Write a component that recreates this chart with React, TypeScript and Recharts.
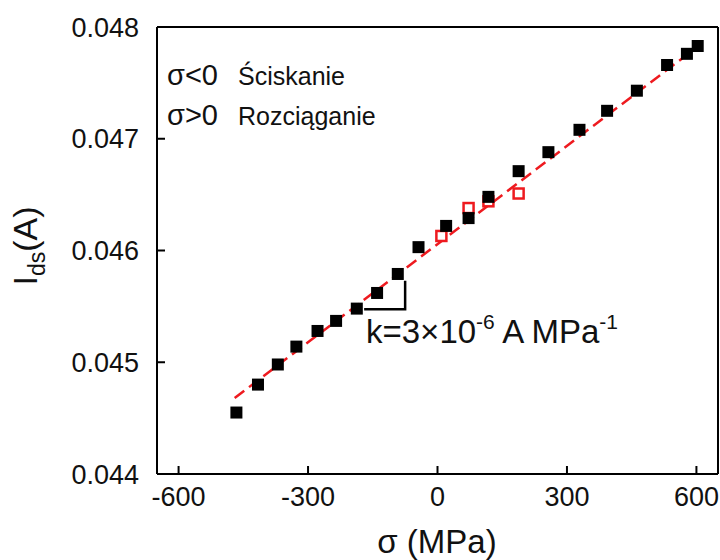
import React from 'react'
import { ComposedChart, Scatter, XAxis, YAxis } from 'recharts'

// measured points (stress in MPa, drain current in A)
const blackX = [-466, -416, -370, -327, -278, -235, -187, -140, -92, -44, 20, 72, 118, 188, 257, 329, 393, 462, 532, 578, 603]
const blackY = [
  0.04455, 0.0448, 0.04498, 0.04514, 0.04528, 0.04537, 0.04548, 0.04562, 0.04579, 0.04603, 0.04622,
  0.04629, 0.04648, 0.04671, 0.04688, 0.04708, 0.04725, 0.04743, 0.04766, 0.04776, 0.04783,
]
const redX = [9, 72, 118, 188]
const redY = [0.04613, 0.04638, 0.04644, 0.04651]

// dashed linear fit
const fitX = [-470, 605]
const fitY = [0.04468, 0.04783]

// slope marker
const slopeX = [-170, -75, -75]
const slopeY = [0.045475, 0.045475, 0.04573]

const xTicks = [-600, -300, 0, 300, 600]
const xMinor = [-450, -150, 150, 450]
const yTicks = [0.044, 0.045, 0.046, 0.047, 0.048]
const yMinor = [0.0445, 0.0455, 0.0465, 0.0475]

const zip = (xs: number[], ys: number[]) => xs.map((x, i) => ({ x, y: ys[i] }))
const black = zip(blackX, blackY)
const red = zip(redX, redY)
const fit = zip(fitX, fitY)
const slope = zip(slopeX, slopeY)

const RED = '#ee1a1f'
const FONT = '"Liberation Sans", Arial, sans-serif'
const THIN = 0.001 // axes need a non-zero size to be drawn

const BlackSquare = (p: any) => <rect x={p.cx - 6} y={p.cy - 6} width={12} height={12} fill="#000" />
const RedSquare = (p: any) => (
  <rect x={p.cx - 5} y={p.cy - 5} width={10} height={10} fill="#fff" stroke={RED} strokeWidth={2.5} />
)
const NoDot = () => <g />

const axisLine = { stroke: '#000', strokeWidth: 2 }
const tickLine = { stroke: '#000', strokeWidth: 2 }
const tickFont = { fontSize: 27, fill: '#111', fontFamily: FONT }

export default function App() {
  return (
    <div style={{ position: 'relative', width: 720, height: 560, background: '#fff' }}>
      <style>{'body{margin:0}'}</style>
      <ComposedChart width={720} height={560} margin={{ top: 27, right: 2, bottom: 86, left: 157 }}>
        <XAxis
          type="number"
          dataKey="x"
          domain={[-650, 650]}
          ticks={xTicks}
          allowDataOverflow
          height={THIN}
          tickSize={-8}
          tickMargin={21}
          axisLine={axisLine}
          tickLine={tickLine}
          tick={tickFont}
        />
        <XAxis xAxisId="xm" type="number" domain={[-650, 650]} ticks={xMinor} allowDataOverflow height={THIN}
          tickSize={-5} axisLine={false} tickLine={tickLine} tick={false} />
        <XAxis xAxisId="top" orientation="top" type="number" domain={[-650, 650]} ticks={xTicks} allowDataOverflow
          height={THIN} tickSize={-8} axisLine={axisLine} tickLine={tickLine} tick={false} />
        <XAxis xAxisId="topm" orientation="top" type="number" domain={[-650, 650]} ticks={xMinor} allowDataOverflow
          height={THIN} tickSize={-5} axisLine={false} tickLine={tickLine} tick={false} />
        <YAxis
          type="number"
          dataKey="y"
          domain={[0.044, 0.048]}
          ticks={yTicks}
          allowDataOverflow
          width={THIN}
          tickSize={-8}
          tickMargin={26}
          axisLine={axisLine}
          tickLine={tickLine}
          tick={tickFont}
          tickFormatter={(v: number) => v.toFixed(3)}
        />
        <YAxis yAxisId="ym" type="number" domain={[0.044, 0.048]} ticks={yMinor} allowDataOverflow width={THIN}
          tickSize={-5} axisLine={false} tickLine={tickLine} tick={false} />
        <YAxis yAxisId="right" orientation="right" type="number" domain={[0.044, 0.048]} ticks={yTicks}
          allowDataOverflow width={THIN} tickSize={-8} axisLine={axisLine} tickLine={tickLine} tick={false} />
        <YAxis yAxisId="rightm" orientation="right" type="number" domain={[0.044, 0.048]} ticks={yMinor}
          allowDataOverflow width={THIN} tickSize={-5} axisLine={false} tickLine={tickLine} tick={false} />

        <Scatter data={fit} shape={NoDot} isAnimationActive={false}
          line={{ stroke: RED, strokeWidth: 2.5, strokeDasharray: '12 6' }} />
        <Scatter data={slope} shape={NoDot} isAnimationActive={false}
          line={{ stroke: '#000', strokeWidth: 2.5 }} />
        <Scatter data={red} shape={RedSquare} isAnimationActive={false} />
        <Scatter data={black} shape={BlackSquare} isAnimationActive={false} />
      </ComposedChart>

      <svg width={720} height={560} style={{ position: 'absolute', left: 0, top: 0, pointerEvents: 'none' }}
        fontFamily={FONT} fill="#111">
        <text x={167} y={85} fontSize={29}>σ&lt;0</text>
        <text x={238} y={85} fontSize={25}>Ściskanie</text>
        <text x={167} y={125} fontSize={29}>σ&gt;0</text>
        <text x={238} y={125} fontSize={25}>Rozciąganie</text>
        <text x={366} y={343} fontSize={33}>
          k=3×10<tspan dy={-14} fontSize={21}>-6</tspan>
          <tspan dy={14}> A MPa</tspan>
          <tspan dy={-14} fontSize={21}>-1</tspan>
        </text>
        <text x={437} y={553} fontSize={33} textAnchor="middle">σ (MPa)</text>
        <text transform="translate(37, 246) rotate(-90)" fontSize={34} textAnchor="middle">
          I<tspan dy={8} fontSize={23}>ds</tspan>
          <tspan dy={-8}>(A)</tspan>
        </text>
      </svg>
    </div>
  )
}
